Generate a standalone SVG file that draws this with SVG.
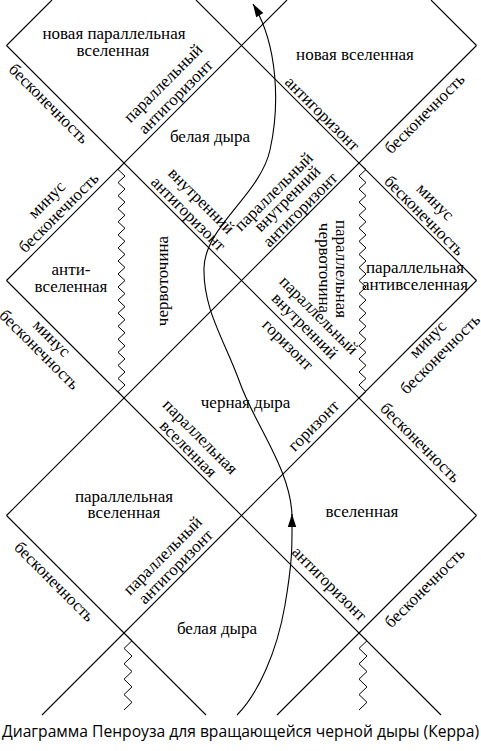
<svg xmlns="http://www.w3.org/2000/svg" width="481" height="751" viewBox="0 0 481 751">
<style>
.ln{stroke:#000;stroke-width:1.1;fill:none}
.zz{stroke:#000;stroke-width:1;fill:none;stroke-linejoin:miter}
.t{font-family:"Liberation Serif","Times New Roman","DejaVu Serif",serif;font-size:17px;fill:#000;text-anchor:middle}
.cap{font-family:"Open Sans","Noto Sans",sans-serif;font-size:16.5px;fill:#000;text-anchor:middle}
</style>
<defs>
<marker id="ah" markerUnits="userSpaceOnUse" markerWidth="16" markerHeight="12" viewBox="-14 -6 16 12" refX="0" refY="0" orient="auto">
<path d="M0,0 L-13,-4.2 L-13,4.2 Z" fill="#000"/>
</marker>
</defs>
<rect width="481" height="751" fill="#fff"/>
<g id="connectors">
<line class="ln" x1="6.5" y1="45.5" x2="52" y2="0"/>
<line class="ln" x1="6.5" y1="280.5" x2="287" y2="0"/>
<line class="ln" x1="6.5" y1="515.5" x2="476.5" y2="45.5"/>
<line class="ln" x1="42" y1="715" x2="476.5" y2="280.5"/>
<line class="ln" x1="277" y1="715" x2="476.5" y2="515.5"/>
<line class="ln" x1="431" y1="0" x2="476.5" y2="45.5"/>
<line class="ln" x1="196" y1="0" x2="476.5" y2="280.5"/>
<line class="ln" x1="6.5" y1="45.5" x2="476.5" y2="515.5"/>
<line class="ln" x1="6.5" y1="280.5" x2="441" y2="715"/>
<line class="ln" x1="6.5" y1="515.5" x2="206" y2="715"/>
<path id="sing1" class="zz" d="M124,163 l-6,6.53 l7,6.53 l-7,6.53 l7,6.53 l-7,6.53 l7,6.53 l-7,6.53 l7,6.53 l-7,6.53 l7,6.53 l-7,6.53 l7,6.53 l-7,6.53 l7,6.53 l-7,6.53 l7,6.53 l-7,6.53 l7,6.53 l-7,6.53 l7,6.53 l-7,6.53 l7,6.53 l-7,6.53 l7,6.53 l-7,6.53 l7,6.53 l-7,6.53 l7,6.53 l-7,6.53 l7,6.53 l-7,6.53 l7,6.53 l-7,6.53 l7,6.53 l-7,6.53 l6,6.53"/>
<path id="sing2" class="zz" d="M359,163 l7,6.53 l-7,6.53 l7,6.53 l-7,6.53 l7,6.53 l-7,6.53 l7,6.53 l-7,6.53 l7,6.53 l-7,6.53 l7,6.53 l-7,6.53 l7,6.53 l-7,6.53 l7,6.53 l-7,6.53 l7,6.53 l-7,6.53 l7,6.53 l-7,6.53 l7,6.53 l-7,6.53 l7,6.53 l-7,6.53 l7,6.53 l-7,6.53 l7,6.53 l-7,6.53 l7,6.53 l-7,6.53 l7,6.53 l-7,6.53 l7,6.53 l-7,6.53 l7,6.53 l-7,6.53"/>
<path id="sing3" class="zz" d="M124,633 l8,7.7 l-8,7.7 l8,7.7 l-8,7.7 l8,7.7 l-8,7.7 l8,7.7 l-8,7.7 l8,7.7 l-8,7.7"/>
<path id="sing4" class="zz" d="M359,633 l8,7.7 l-8,7.7 l8,7.7 l-8,7.7 l8,7.7 l-8,7.7 l8,7.7 l-8,7.7 l8,7.7 l-8,7.7"/>
<path id="path1" class="ln" d="M237,715 C258,694 277,652 285,605 S292,545 292,514" marker-end="url(#ah)"/>
<path id="path2" class="ln" d="M292,516 C291,470 255,425 240,383 S203,310 204,268 S260,195 270,150 S278,45 253,4" marker-end="url(#ah)"/>
</g>
<g id="n-new-parallel-universe"><text class="t" x="114" y="39">новая параллельная</text><text class="t" x="113" y="56">вселенная</text></g>
<g id="n-new-universe"><text class="t" x="355" y="60">новая вселенная</text></g>
<g id="n-white-hole-top"><text class="t" x="210" y="142">белая дыра</text></g>
<g id="n-anti-universe"><text class="t" x="71" y="275">анти-</text><text class="t" x="71" y="292">вселенная</text></g>
<g id="n-parallel-antiuniverse"><text class="t" x="415" y="273">параллельная</text><text class="t" x="415" y="290">антивселенная</text></g>
<g id="n-wormhole"><text class="t" transform="translate(163,281) rotate(-90)" y="5">червоточина</text></g>
<g id="n-parallel-wormhole"><text class="t" transform="translate(341,269) rotate(90)" y="5">параллельная</text><text class="t" transform="translate(324,268) rotate(90)" y="5">червоточина</text></g>
<g id="n-black-hole"><text class="t" x="245.5" y="408">черная дыра</text></g>
<g id="n-parallel-universe"><text class="t" x="124" y="502">параллельная</text><text class="t" x="124" y="518">вселенная</text></g>
<g id="n-universe"><text class="t" x="362" y="517">вселенная</text></g>
<g id="n-white-hole-bottom"><text class="t" x="217" y="634">белая дыра</text></g>
<g id="edge-labels">
<text class="t" transform="translate(48.5,104) rotate(45)" y="5">бесконечность</text>
<text class="t" transform="translate(163.5,83.5) rotate(-45)" y="5">параллельный</text>
<text class="t" transform="translate(176,97) rotate(-45)" y="5">антигоризонт</text>
<text class="t" transform="translate(322,114) rotate(45)" y="5">антигоризонт</text>
<text class="t" transform="translate(425,114) rotate(-45)" y="5">бесконечность</text>
<text class="t" transform="translate(201,201) rotate(45)" y="5">внутренний</text>
<text class="t" transform="translate(188,214) rotate(45)" y="5">антигоризонт</text>
<text class="t" transform="translate(274,192) rotate(-45)" y="5">параллельный</text>
<text class="t" transform="translate(287.5,199) rotate(-45)" y="5">внутренний</text>
<text class="t" transform="translate(300.5,210) rotate(-45)" y="5">антигоризонт</text>
<text class="t" transform="translate(47,200) rotate(-45)" y="5">минус</text>
<text class="t" transform="translate(59,213) rotate(-45)" y="5">бесконечность</text>
<text class="t" transform="translate(51.5,338.5) rotate(45)" y="5">минус</text>
<text class="t" transform="translate(39,350) rotate(45)" y="5">бесконечность</text>
<text class="t" transform="translate(435,202) rotate(45)" y="5">минус</text>
<text class="t" transform="translate(424,216) rotate(45)" y="5">бесконечность</text>
<text class="t" transform="translate(318.5,315.5) rotate(45)" y="5">параллельный</text>
<text class="t" transform="translate(304.5,326) rotate(45)" y="5">внутренний</text>
<text class="t" transform="translate(287.5,345) rotate(45)" y="5">горизонт</text>
<text class="t" transform="translate(428,339.5) rotate(-45)" y="5">минус</text>
<text class="t" transform="translate(440.5,354.5) rotate(-45)" y="5">бесконечность</text>
<text class="t" transform="translate(200,437) rotate(45)" y="5">параллельная</text>
<text class="t" transform="translate(188,449) rotate(45)" y="5">вселенная</text>
<text class="t" transform="translate(314,426) rotate(-45)" y="5">горизонт</text>
<text class="t" transform="translate(420,443) rotate(45)" y="5">бесконечность</text>
<text class="t" transform="translate(54,582) rotate(45)" y="5">бесконечность</text>
<text class="t" transform="translate(163,556) rotate(-45)" y="5">параллельный</text>
<text class="t" transform="translate(176,567) rotate(-45)" y="5">антигоризонт</text>
<text class="t" transform="translate(329,584) rotate(45)" y="5">антигоризонт</text>
<text class="t" transform="translate(425,588) rotate(-45)" y="5">бесконечность</text>
</g>
<text class="cap" x="240.5" y="737" textLength="477" lengthAdjust="spacingAndGlyphs">Диаграмма Пенроуза для вращающейся черной дыры (Керра)</text>
</svg>
